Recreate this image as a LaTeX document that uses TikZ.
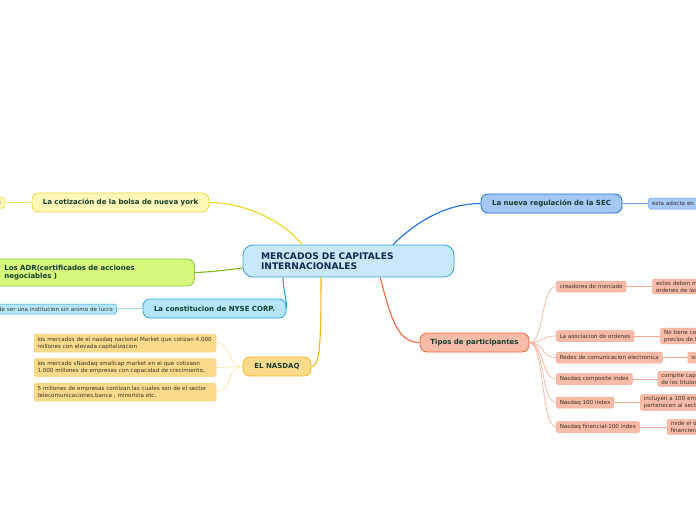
\documentclass[tikz,border=0pt]{standalone}
\usepackage{fontspec}
\setmainfont{DejaVu Sans}
\usepackage{xcolor}
\usetikzlibrary{positioning,calc}
\definecolor{ctrF}{HTML}{C6EAFB}\definecolor{ctrB}{HTML}{3D9ED8}\definecolor{ctrT}{HTML}{0D2A4F}
\definecolor{topT}{HTML}{123D2C}\definecolor{leafT}{HTML}{3A3020}
\definecolor{cotF}{HTML}{FFF8B8}\definecolor{cotB}{HTML}{EFD43C}\definecolor{cotC}{HTML}{F0D31E}
\definecolor{adrF}{HTML}{D6F97C}\definecolor{adrB}{HTML}{8CC63E}\definecolor{adrC}{HTML}{7FB81A}
\definecolor{nyF}{HTML}{B5E6FB}\definecolor{nyB}{HTML}{2AA6E0}
\definecolor{nqF}{HTML}{FCDB8D}\definecolor{nqB}{HTML}{F6B51D}\definecolor{nqL}{HTML}{FDE2A0}
\definecolor{secF}{HTML}{A5C8F6}\definecolor{secB}{HTML}{1D6FD8}\definecolor{secL}{HTML}{6A9EE8}
\definecolor{tpF}{HTML}{F8BBA8}\definecolor{tpB}{HTML}{F0653A}\definecolor{tpL}{HTML}{F7A98F}

\begin{document}
\begin{tikzpicture}[x=1pt,y=-1pt,node distance=6pt,
  ctrbox/.style={draw=ctrB,fill=ctrF,line width=.8pt,rounded corners=10pt,align=left,text width=175pt,inner xsep=18pt,minimum height=32pt,text=ctrT,font=\fontsize{9.1}{10.5}\selectfont\bfseries},
  topic/.style={draw,line width=.8pt,rounded corners=7pt,minimum height=19pt,text=topT,font=\fontsize{7}{8.3}\selectfont\bfseries},
  leaf/.style={draw,line width=.5pt,rounded corners=2pt,align=left,inner xsep=3.5pt,inner ysep=1.8pt,minimum height=11pt,text=leafT,font=\fontsize{5.6}{6.9}\selectfont},
  mline/.style={line width=1.1pt},lline/.style={line width=.6pt}]
\useasboundingbox (0,0) rectangle (696,520);
\clip (0,0) rectangle (696,520);
\node[ctrbox] (ctr) at (348.5,261) {MERCADOS DE CAPITALES\\INTERNACIONALES};
% ramas principales
\node[topic,draw=cotB,fill=cotF,minimum width=177pt] (cot) at (120.5,202.5) {La cotización de la bolsa de nueva york};
\node[topic,draw=adrB,fill=adrF,anchor=west,align=left,text width=178pt,inner xsep=12pt,minimum height=27pt] (adr) at (-8,272.5) {Los ADR(certificados de acciones\\negociables )};
\node[topic,draw=nyB,fill=nyF,minimum width=143pt] (nyse) at (214.5,308.5) {La constitucion de NYSE CORP.};
\node[topic,draw=nqB,fill=nqF,minimum width=68pt] (nq) at (277,366.5) {EL NASDAQ};
\node[topic,draw=secB,fill=secF,minimum width=141pt] (sec) at (551.5,203.5) {La nueva regulación de la SEC};
\node[topic,draw=tpB,fill=tpF,minimum width=109pt] (tp) at (474.5,342.5) {Tipos de participantes};
% hojas
\node[leaf,draw=cotB,fill=cotF,anchor=east,text width=30pt,align=right] (cotl) at (5,202.5) {c};
\node[leaf,draw=nyB,fill=nyF,anchor=east,text width=140pt,align=right,minimum height=10pt] (nysel) at (116.5,309) {de ser una institucion sin animo de lucro};
\node[leaf,draw=nqB!60,fill=nqF,text width=175pt,minimum height=18pt] (nq1) at (125,343) {los mercados de el nasdaq nacional Market que cotizan 4.000\\millones con elevada capitalizacion};
\node[leaf,draw=nqB!60,fill=nqF,text width=175pt,minimum height=18pt,below=of nq1] (nq2) {los mercado sNasdaq smallcap market en el que cotizaon\\1.000 millones de empresas con capacidad de crecimiento,};
\node[leaf,draw=nqB!60,fill=nqF,text width=175pt,minimum height=18pt,below=of nq2] (nq3) {5 millones de empresas contizan las cuales son de el sector\\telecomunicaciones,banca , minorista etc.};
\node[leaf,draw=secL,fill=secF,right=26pt of sec,text width=70pt] (secl) {esta adocta en 1};
\node[leaf,draw=tpL,fill=tpF,anchor=west] (cm) at (556,286.5) {creadores de mercado};
\node[leaf,draw=tpL,fill=tpF,below=38pt of cm.south west,anchor=north west] (ao) {La asociacion de ordenes};
\node[leaf,draw=tpL,fill=tpF,below=10pt of ao.south west,anchor=north west] (rc) {Redes de comunicacion electronica};
\node[leaf,draw=tpL,fill=tpF,below=10pt of rc.south west,anchor=north west] (ci) {Nasdaq composite index};
\node[leaf,draw=tpL,fill=tpF,below=12pt of ci.south west,anchor=north west] (nh) {Nasdaq 100 index};
\node[leaf,draw=tpL,fill=tpF,below=13pt of nh.south west,anchor=north west] (nf) {Nasdaq financial-100 index};
\node[leaf,draw=tpL,fill=tpF,right=26pt of cm,text width=70pt] (d1) {estos deben m\\ordenes de las};
\node[leaf,draw=tpL,fill=tpF,right=26pt of ao,text width=70pt] (d2) {No tiene co\\precios de l};
\node[leaf,draw=tpL,fill=tpF,right=25pt of rc,text width=70pt] (d3) {so};
\node[leaf,draw=tpL,fill=tpF,right=25pt of ci,text width=70pt] (d4) {compite capi\\de los titulos};
\node[leaf,draw=tpL,fill=tpF,right=26pt of nh,text width=70pt] (d5) {incluyen a 100 em\\pertenecen al secto};
\node[leaf,draw=tpL,fill=tpF,right=27pt of nf,text width=70pt] (d6) {mide el d\\financiera};
% conectores
\draw[mline,cotC] ($(ctr.north west)!.28!(ctr.north east)$) .. controls (285,222) and (245,202.5) .. (cot.east);
\draw[mline,secB] ($(ctr.north west)!.71!(ctr.north east)$) .. controls (420,218) and (450,203.5) .. (sec.west);
\draw[mline,adrC] ($(ctr.west)+(0,7)$) .. controls (225,270) and (212,272) .. (adr.east);
\draw[mline,nyB] ($(ctr.south west)!.19!(ctr.south east)$) .. controls (284,295) and (287,300) .. (nyse.east);
\draw[mline,nqB] ($(ctr.south west)!.37!(ctr.south east)$) .. controls (321,345) and (320,366.5) .. (nq.east);
\draw[mline,tpB] ($(ctr.south west)!.65!(ctr.south east)$) .. controls (392,325) and (400,342.5) .. (tp.west);
\draw[lline,cotB!70](cot)--(cotl);\draw[lline,nyB!60](nyse)--(nysel);\draw[lline,secL](sec)--(secl);
\foreach \n in {nq1,nq2,nq3} \draw[lline,nqL] (nq.west) .. controls +(-15,0) and +(15,0) .. (\n.east);
\foreach \n in {cm,ao,rc,ci,nh,nf} \draw[lline,tpL] (tp.east) .. controls +(15,0) and +(-15,0) .. (\n.west);
\draw[lline,tpL](cm)--(d1);\draw[lline,tpL](ao)--(d2);\draw[lline,tpL](rc)--(d3);
\draw[lline,tpL](ci)--(d4);\draw[lline,tpL](nh)--(d5);\draw[lline,tpL](nf)--(d6);
\end{tikzpicture}
\end{document}
